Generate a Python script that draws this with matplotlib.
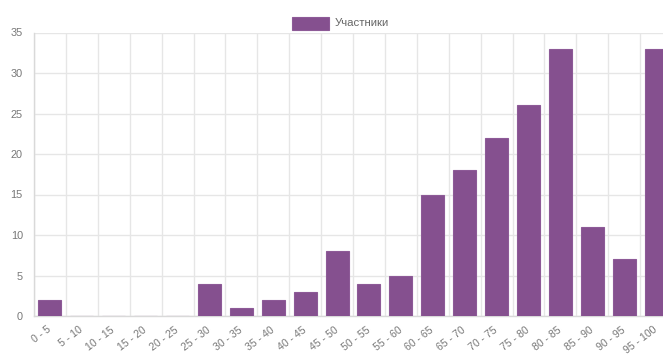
import matplotlib
matplotlib.use("Agg")
import matplotlib.pyplot as plt
from matplotlib.patches import Rectangle
import numpy as np

categories = ["0 - 5", "5 - 10", "10 - 15", "15 - 20", "20 - 25", "25 - 30", "30 - 35",
              "35 - 40", "40 - 45", "45 - 50", "50 - 55", "55 - 60", "60 - 65", "65 - 70",
              "70 - 75", "75 - 80", "80 - 85", "85 - 90", "90 - 95", "95 - 100"]
participants = [2, 0, 0, 0, 0, 4, 1, 2, 3, 8, 4, 5, 15, 18, 22, 26, 33, 11, 7, 33]
series_label = "Участники"
y_ticks = [0, 5, 10, 15, 20, 25, 30, 35]

BAR = "#85508f"
GRID = "#e6e6e6"
TXT = "#777777"
plt.rcParams['font.family'] = ['Liberation Sans', 'DejaVu Sans']

W, H = 663, 354
fig = plt.figure(figsize=(W / 100, H / 100), dpi=100)
left, right, top, bottom = 34, 672, 32.5, 316
ax = fig.add_axes([left / W, 1 - bottom / H, (right - left) / W, (bottom - top) / H])

x = np.arange(len(categories))
ax.bar(x, participants, width=0.72, color=BAR, edgecolor="#8d5a97", linewidth=0.8, zorder=3)

ax.set_xlim(-0.5, len(categories) - 0.5)
ax.set_ylim(0, 35)
ax.set_yticks(y_ticks)
ax.set_yticklabels([str(v) for v in y_ticks])
ax.set_xticks(x)
ax.set_xticklabels(categories, rotation=37, ha='right', va='center', rotation_mode='anchor')

ax.set_xticks(np.arange(len(categories) + 1) - 0.5, minor=True)
ax.grid(True, which='minor', axis='x', color=GRID, linewidth=1, zorder=0)
ax.grid(True, which='major', axis='y', color=GRID, linewidth=1, zorder=0)
ax.tick_params(axis='x', which='both', length=0, pad=9, labelsize=7.6, colors=TXT)
ax.tick_params(axis='y', length=0, pad=8, labelsize=7.8, colors=TXT)

for s in ['top', 'right']:
    ax.spines[s].set_visible(False)
for s in ['left', 'bottom']:
    ax.spines[s].set_color('#d9d9d9')
    ax.spines[s].set_linewidth(1)

# legend
fig.patches.append(Rectangle((292 / W, 1 - 30 / H), 37 / W, 13 / H, transform=fig.transFigure,
                             facecolor=BAR, edgecolor="#8d5a97", linewidth=0.8))
fig.text(335 / W, 1 - 23.5 / H, series_label, ha='left', va='center', fontsize=8.2, color="#666666")

fig.savefig("out.png", dpi=100)
